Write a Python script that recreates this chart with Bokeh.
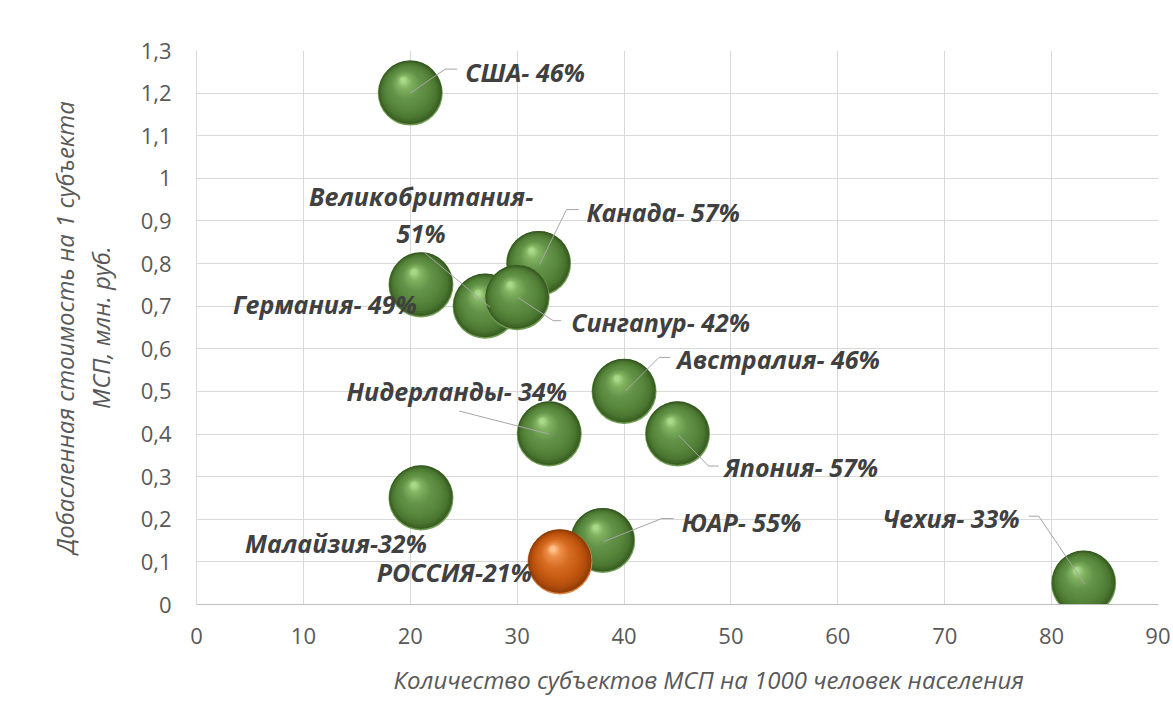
import numpy as np
from bokeh.plotting import figure
from bokeh.models import ColumnDataSource, FixedTicker, Title, Range1d
from bokeh.embed import file_html
from bokeh.resources import INLINE

# ---------------- data ----------------
labels = ["США- 46%", "Германия- 49%", "Великобритания-\n51%", "Канада- 57%",
          "Сингапур- 42%", "Австралия- 46%", "Нидерланды- 34%", "Япония- 57%",
          "Малайзия-32%", "ЮАР- 55%", "РОССИЯ-21%", "Чехия- 33%"]
smb_per_1000 = [20, 21, 27, 32, 30, 40, 33, 45, 21, 38, 34, 83]
value_added = [1.20, 0.75, 0.70, 0.80, 0.72, 0.50, 0.40, 0.40, 0.25, 0.15, 0.10, 0.05]
is_russia = [False, False, False, False, False, False, False, False, False, False, True, False]

x_ticks = [0, 10, 20, 30, 40, 50, 60, 70, 80, 90]
x_tick_labels = ["0", "10", "20", "30", "40", "50", "60", "70", "80", "90"]
y_ticks = [0, 0.1, 0.2, 0.3, 0.4, 0.5, 0.6, 0.7, 0.8, 0.9, 1.0, 1.1, 1.2, 1.3]
y_tick_labels = ["0", "0,1", "0,2", "0,3", "0,4", "0,5", "0,6", "0,7", "0,8", "0,9",
                 "1", "1,1", "1,2", "1,3"]

x_title = "Количество субъектов МСП на 1000 человек населения"
y_title_1 = "Добасленная стоимость на 1 субъекта"
y_title_2 = "МСП, млн. руб."

# ---------------- styling / placement (pixels) ----------------
W, H = 1170, 712
B_LEFT, B_RIGHT, B_TOP, B_BOTTOM = 196, 12, 50, 108
FW, FH = W - B_LEFT - B_RIGHT, H - B_TOP - B_BOTTOM
X0, X1, Y0, Y1 = 0, 90, 0, 1.3
SX = (X1 - X0) / FW   # data units per pixel
SY = (Y1 - Y0) / FH

# label offsets from bubble centre (screen px, y downward) and alignment
label_dx = [55, -4, -64, 48, 54, 53, 18, 47, 6, 79, -28, -64]
label_dy = [-21, 19, -92, -52, 24, -32, -43, 33, 45, -19, 10, -65]
label_align = ["left", "right", "center", "left", "left", "left", "right", "left",
               "right", "left", "right", "right"]
leaders = [
    [(0, 0), (35, -24), (47, -24)],
    None,
    [(5, 1), (-60, -53)],
    [(1, 1), (28, -54), (40, -54)],
    [(1, 0), (36, 23), (44, 23)],
    [(1, 0), (35, -34), (46, -34)],
    [(0, 0), (-90, -23)],
    [(1, 1), (31, 32), (41, 32)],
    None,
    [(1, 1), (59, -22), (71, -22)],
    None,
    [(1, 1), (-45, -67), (-55, -67)],
]

R = 32.5
green_rim = "#6f9c52"
orange_rim = "#dd8443"
green_stops = [(0.0, "#35571f"), (0.15, "#4a7631"), (0.35, "#58873c"), (0.6, "#64944a"),
               (0.85, "#82b360"), (1.0, "#a8d888")]
orange_stops = [(0.0, "#8a3a08"), (0.15, "#b04c0c"), (0.35, "#c75b12"), (0.6, "#d66c22"),
                (0.85, "#ec8f4a"), (1.0, "#ffc18c")]


def hex2rgb(h):
    return np.array([int(h[i:i + 2], 16) for i in (1, 3, 5)], dtype=float)


def interp(stops, t):
    for (t0, c0), (t1, c1) in zip(stops[:-1], stops[1:]):
        if t <= t1:
            f = (t - t0) / (t1 - t0) if t1 > t0 else 0
            c = hex2rgb(c0) * (1 - f) + hex2rgb(c1) * f
            return "#%02x%02x%02x" % tuple(int(round(v)) for v in c)
    return stops[-1][1]


# build layered spheres (rows ordered point by point so stacking is right)
NL = 30
bx, by, bs, bc = [], [], [], []
for xv, yv, rus in zip(smb_per_1000, value_added, is_russia):
    stops = orange_stops if rus else green_stops
    # light reflection rim at the bottom edge
    bx.append(xv); by.append(yv); bs.append(2 * R); bc.append(orange_rim if rus else green_rim)
    for k in range(NL):
        t = k / (NL - 1)
        r = R * (1 - 0.92 * t) - (1.0 if k == 0 else 0)
        ox = -7 * t
        oy = -13 * t - (1.2 if k == 0 else 0)
        bx.append(xv + ox * SX)
        by.append(yv - oy * SY)
        bs.append(2 * r)
        bc.append(interp(stops, t))

sphere_src = ColumnDataSource(dict(x=bx, y=by, size=bs, color=bc))

# ---------------- figure ----------------
p = figure(width=W, height=H, output_backend="svg", toolbar_location=None,
           x_range=Range1d(X0, X1), y_range=Range1d(Y0, Y1),
           min_border_left=B_LEFT, min_border_right=B_RIGHT,
           min_border_top=B_TOP, min_border_bottom=B_BOTTOM,
           background_fill_color="white", border_fill_color="white")
p.outline_line_color = None

p.xaxis.ticker = FixedTicker(ticks=x_ticks)
p.xaxis.major_label_overrides = {t: l for t, l in zip(x_ticks, x_tick_labels)}
p.yaxis.ticker = FixedTicker(ticks=y_ticks)
p.yaxis.major_label_overrides = {t: l for t, l in zip(y_ticks, y_tick_labels)}

for ax in (p.xaxis[0], p.yaxis[0]):
    ax.major_tick_line_color = None
    ax.minor_tick_line_color = None
    ax.major_tick_out = 0
    ax.major_tick_in = 0
    ax.major_label_text_font = "Open Sans"
    ax.major_label_text_font_size = "22px"
    ax.major_label_text_color = "#595959"
p.xaxis.axis_line_color = "#bfbfbf"
p.yaxis.axis_line_color = "#d9d9d9"
p.xaxis.major_label_standoff = 23
p.yaxis.major_label_standoff = 25

p.xgrid.ticker = FixedTicker(ticks=x_ticks)
p.ygrid.ticker = FixedTicker(ticks=y_ticks)
p.xgrid.grid_line_color = "#d9d9d9"
p.ygrid.grid_line_color = "#d9d9d9"

p.yaxis.axis_label = y_title_2
p.yaxis.axis_label_text_font = "Open Sans"
p.yaxis.axis_label_text_font_size = "24px"
p.yaxis.axis_label_text_font_style = "italic"
p.yaxis.axis_label_text_color = "#595959"
p.yaxis.axis_label_standoff = 21

t_y1 = Title(text=y_title_1, align="center", text_font="Open Sans", text_font_size="24px",
             text_font_style="italic", text_color="#595959", standoff=-1)
p.add_layout(t_y1, "left")

t_x = Title(text=x_title, align="left", offset=197, text_font="Open Sans", text_font_size="24px",
            text_font_style="italic", text_color="#595959", standoff=29)
p.add_layout(t_x, "below")

# bubbles
p.scatter("x", "y", size="size", fill_color="color", line_color=None, source=sphere_src)

# leader lines
lxs, lys = [], []
for xv, yv, ld in zip(smb_per_1000, value_added, leaders):
    if ld is None:
        continue
    lxs.append([xv + dx * SX for dx, dy in ld])
    lys.append([yv - dy * SY for dx, dy in ld])
p.multi_line(lxs, lys, line_color="#a6a6a6", line_width=1)

# labels
for al in ("left", "right", "center"):
    idx = [i for i, a in enumerate(label_align) if a == al]
    src = ColumnDataSource(dict(
        x=[smb_per_1000[i] + label_dx[i] * SX for i in idx],
        y=[value_added[i] - label_dy[i] * SY for i in idx],
        text=[labels[i] for i in idx]))
    p.text("x", "y", text="text", source=src, text_align=al, text_baseline="middle",
           text_font={"value": "Open Sans"}, text_font_size="25px", text_font_style="bold italic",
           text_color="#404040", text_line_height=1.09)

open("out.html", "w").write(file_html(p, INLINE))
